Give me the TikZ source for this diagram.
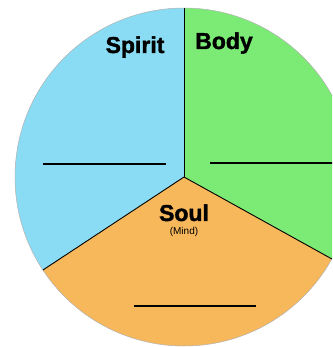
\documentclass[tikz,border=0pt]{standalone}
\usepackage{fontspec}
\setmainfont{Liberation Sans}
\newfontfamily\dickfont{Liberation Sans}[BoldFeatures={FakeBold=1.6}]
\definecolor{geistblau}{HTML}{89DCF3}
\definecolor{koerpergruen}{HTML}{7CEB76}
\definecolor{seelenorange}{HTML}{F7B75B}
\tikzset{
  titel/.style={anchor=base, font=\dickfont\fontsize{23}{23}\selectfont\bfseries},
  leerzeile/.style={line width=1.3pt}
}

\begin{document}
\begin{tikzpicture}[x=1pt,y=1pt]
        % Rahmen
        \useasboundingbox (-184,-170) rectangle (148,177);
        \clip (-184,-170) rectangle (148,177);

        % Sektoren
        \fill[geistblau] (0,0) -- (90:169) arc (90:213.4:169) -- cycle;
        \fill[koerpergruen] (0,0) -- (-29:169) arc (-29:90:169) -- cycle;
        \fill[seelenorange] (0,0) -- (213.4:169) arc (213.4:331:169) -- cycle;
        \draw[gray!60, line width=0.5pt] (0,0) circle (169);

        % Trennlinien
        \draw[line width=0.9pt] (0,0) -- (90:169);
        \draw[line width=0.9pt] (0,0) -- (213.4:169);
        \draw[line width=0.9pt] (0,0) -- (-29:169);

        % Leerzeilen zum Ausfuellen
        \draw[leerzeile] (-141,13) -- (-18,13); % Geist
        \draw[leerzeile] (26,14) -- (150,14); % Koerper
        \draw[leerzeile] (-50,-129) -- (72,-129); % Seele

        % Beschriftung
        \node[titel] (spirit) at (-49,124) {Spirit};
        \node[titel] (body) at (40,128) {Body};
        \node[titel] (soul) at (0,-44) {Soul};
        \node[anchor=base, font=\fontsize{10}{10}\selectfont] (mind) at (0,-58) {(Mind)};
\end{tikzpicture}
\end{document}
